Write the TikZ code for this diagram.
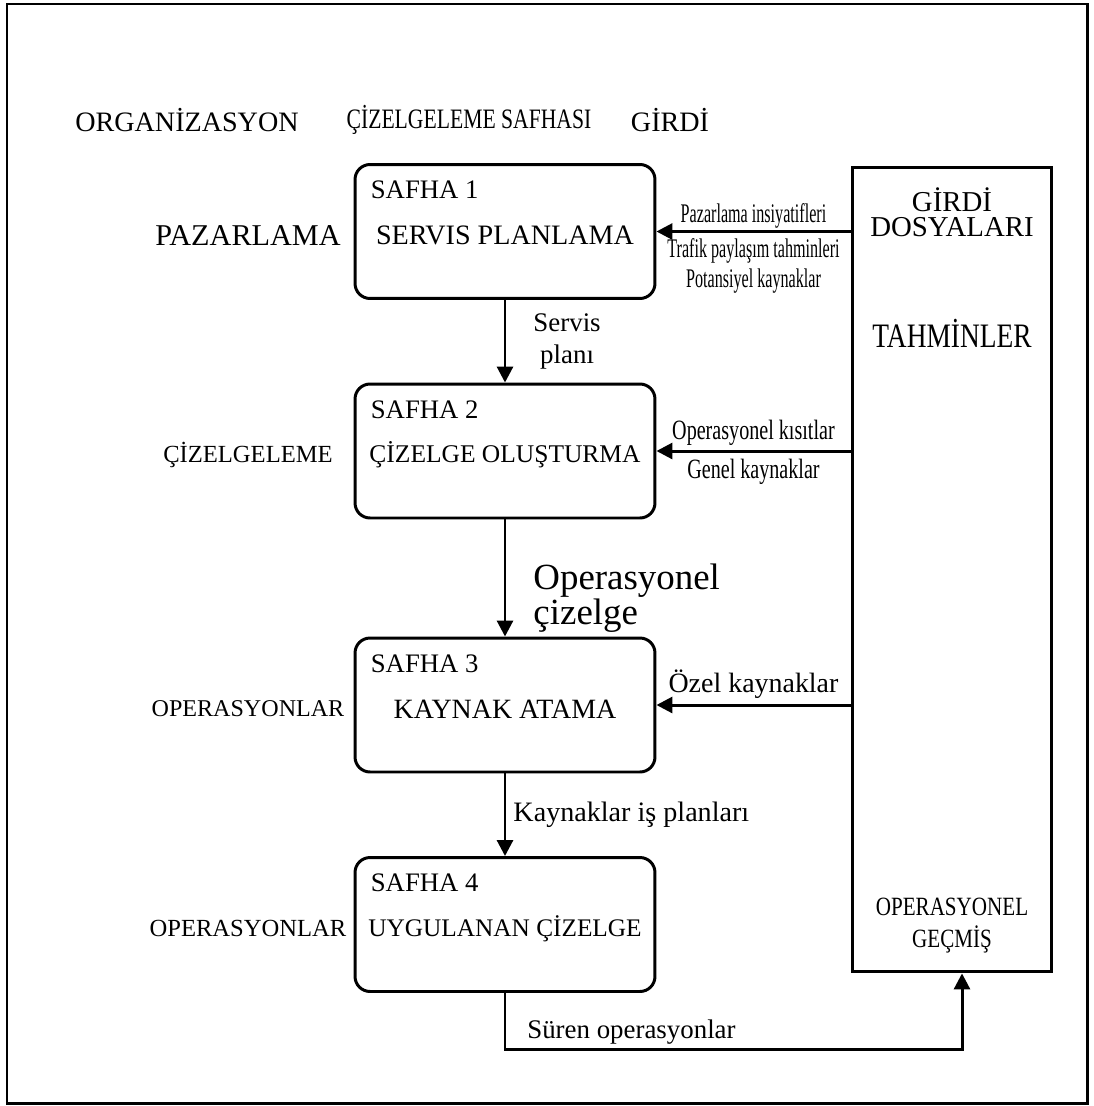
\documentclass[tikz,border=0pt]{standalone}
\usepackage{fontspec}
\usepackage{tikz}
\usetikzlibrary{arrows.meta, calc, positioning}
\setmainfont{Liberation Serif}
\newfontfamily\narrowA{Liberation Serif}[FakeStretch=0.6]
\newfontfamily\narrowB{Liberation Serif}[FakeStretch=0.72]
\newfontfamily\narrowC{Liberation Serif}[FakeStretch=0.8]
\newfontfamily\narrowD{Liberation Serif}[FakeStretch=0.77]
\newcommand{\fsz}[2]{\fontsize{#1}{#2}\selectfont}
\tikzset{
    frame/.style={line width=1.7pt},
    safhabox/.style={draw, line width=1.7pt, rounded corners=0.3cm, minimum width=6cm, minimum height=2.68cm},
    safhatag/.style={anchor=west, inner sep=0pt, font=\fsz{15.2}{18}},
    safhatext/.style={inner sep=0pt},
    orglbl/.style={inner sep=0pt, font=\fsz{14}{17}},
    headlbl/.style={inner sep=0pt, font=\fsz{16}{19}},
    girdibox/.style={draw, line width=1.7pt, minimum width=4cm, minimum height=16.1cm},
    flow/.style={line width=1.7pt, -{Triangle[length=0.32cm, width=0.32cm]}},
    midlbl/.style={inner sep=0pt, font=\fsz{15.3}{18}},
    sidelbl/.style={inner sep=0pt, align=center}
}
\newcommand{\safha}[6]{
    \node[safhabox] (#1) at (505,#2) {};
    \node[safhatag] at ($(#1.north west)+(17,27)$) {SAFHA #3};
    \node[safhatext, font=\fsz{#4}{18}] (#1t) at ($(#1.center)+(0,4)$) {#5};
    \node[orglbl] (#1o) at (orgcol |- #1t) {#6};
}

\begin{document}
\begin{tikzpicture}[x=0.02cm, y=-0.02cm]
        \useasboundingbox (0,0) rectangle (1094,1106);
        \draw[frame] (7,4) rectangle (1087,1103);
        \coordinate (orgcol) at (248,0);

        \node[headlbl] (hOrg) at (187,120) {ORGANİZASYON};
        \node[headlbl, font=\narrowD\fsz{16}{19}] (hSafha) at (469,120) {ÇİZELGELEME SAFHASI};
        \node[headlbl] (hGirdi) at (670,120) {GİRDİ};

        \safha{s1}{231.5}{1}{16}{SERVIS PLANLAMA}{\fsz{17.2}{20}PAZARLAMA}
        \safha{s2}{451}{2}{14.5}{ÇİZELGE OLUŞTURMA}{ÇİZELGELEME}
        \safha{s3}{705}{3}{15.9}{KAYNAK ATAMA}{\fsz{13.7}{17}OPERASYONLAR}
        \safha{s4}{924.5}{4}{14.4}{UYGULANAN ÇİZELGE}{OPERASYONLAR}

        \node[girdibox] (girdi) at (952,569.5) {};
        \node[sidelbl, font=\fsz{16.4}{14.2}] (girdiT) at ($(girdi.north)+(0,47)$) {GİRDİ\\DOSYALARI};
        \node[sidelbl, font=\narrowC\fsz{19.5}{22}] (tahmin) at ($(girdi.north)+(0,168)$) {TAHMİNLER};
        \node[sidelbl, font=\narrowC\fsz{15}{18}] (gecmis) at ($(girdi.south)+(0,-48)$) {OPERASYONEL\\GEÇMİŞ};

        \draw[flow] (s1) -- node[midlbl, right=0.54cm, align=center] {Servis\\planı} (s2);
        \draw[flow] (s2) -- node[midlbl, right=0.54cm, align=left, yshift=-0.4cm, font=\fsz{21}{18}] {Operasyonel\\çizelge} (s3);
        \draw[flow] (s3) -- node[midlbl, right=0.14cm, font=\fsz{16}{19}] {Kaynaklar iş planları} (s4);

        \draw[flow] (s1.east -| girdi.west) -- node[sidelbl, above=0.03cm, font=\narrowA\fsz{15.3}{17}] {Pazarlama insiyatifleri}
            node[sidelbl, below=0.12cm, font=\narrowA\fsz{15.3}{17}] {Trafik paylaşım tahminleri\\Potansiyel kaynaklar} (s1.east);
        \draw[flow] (s2.east -| girdi.west) -- node[sidelbl, above=0.07cm, font=\narrowB\fsz{15.9}{19}] {Operasyonel kısıtlar}
            node[sidelbl, below=0.13cm, font=\narrowB\fsz{15.9}{19}] {Genel kaynaklar} (s2.east);
        \draw[flow] (s3.east -| girdi.west) -- node[sidelbl, above=0.1cm, font=\fsz{15.9}{19}] {Özel kaynaklar} (s3.east);

        \coordinate (ret) at (962,1049);
        \draw[flow] (s4.south) |- (ret) -- (ret |- girdi.south);
        \node[midlbl, anchor=west] (suren) at ($(s4.south |- ret)+(22,-17)$) {Süren operasyonlar};
\end{tikzpicture}
\end{document}
